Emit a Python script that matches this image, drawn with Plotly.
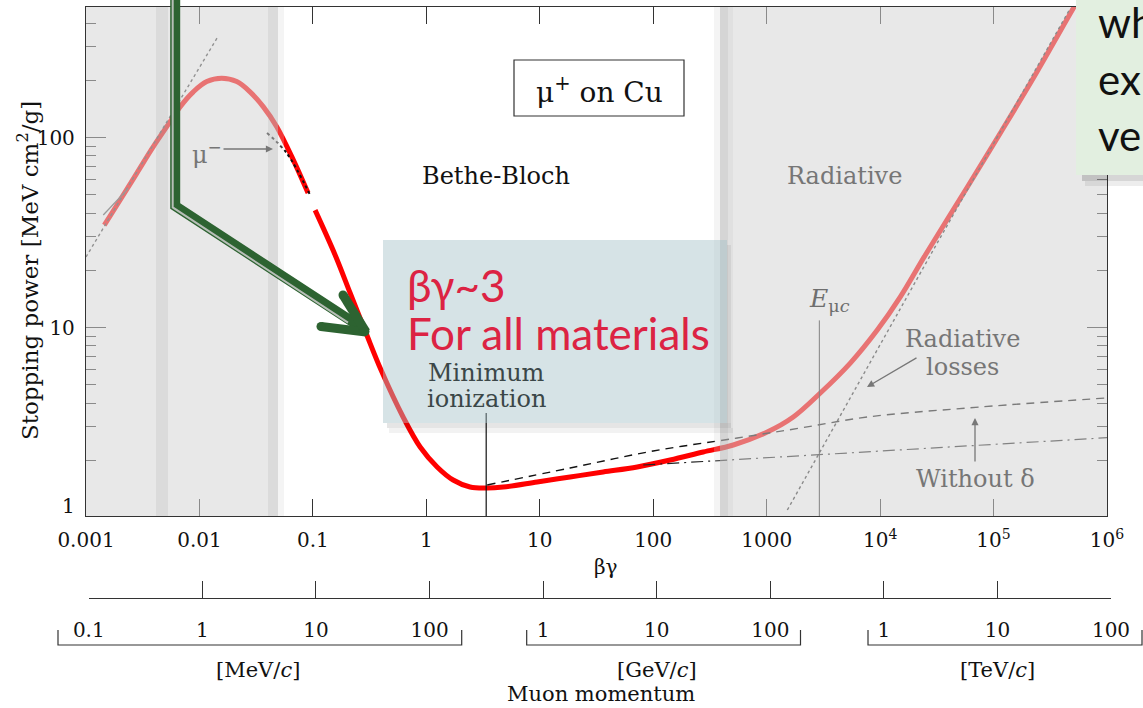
import plotly.graph_objects as go

# ---------------- data ----------------
# mu+ on Cu stopping power, low-energy branch (up to the gap near beta*gamma ~ 0.1)
curve_low_bg = [0.00145, 0.0020, 0.0028, 0.00392, 0.00515, 0.00675, 0.00883, 0.0116,
                0.0157, 0.0213, 0.0279, 0.0366, 0.0480, 0.0673, 0.0907]
curve_low_sp = [34.6, 46.9, 64.8, 89.5, 114, 145, 174, 197,
                205, 197, 174, 145, 114, 76.1, 51.0]
# main branch (Bethe-Bloch + radiative)
curve_high_bg = [0.1046, 0.157, 0.213, 0.294, 0.399, 0.624, 0.882, 1.245, 1.723, 2.43,
                 3.44, 4.76, 9.48, 18.5, 36.2, 72.3, 141, 276, 508, 1012,
                 1716, 2970, 5460, 9440, 15070, 25050, 58800, 114800, 224400, 506000, 600000]
curve_high_sp = [41.5, 24.1, 15.2, 9.36, 5.97, 3.38, 2.35, 1.845, 1.575, 1.447,
                 1.43, 1.447, 1.538, 1.634, 1.736, 1.845, 2.007, 2.212, 2.408, 2.818,
                 3.38, 4.52, 6.50, 9.70, 14.5, 24.1, 54.9, 105.6, 205.6, 480, 570]
# mu- curve (dotted)
mu_minus_bg = [0.0394, 0.0589, 0.0945]
mu_minus_sp = [105.6, 82.6, 49.8]
# low-energy straight-line guide (dotted) and short fit line
lowguide_bg = [0.001, 0.0143]
lowguide_sp = [23.5, 334]
lowfit_bg = [0.00142, 0.00236]
lowfit_sp = [39.1, 54.0]
# radiative losses (dotted)
rad_bg = [1521, 29440, 475000]
rad_sp = [1.095, 25.6, 479]
# without delta (dashed)
nodelta_bg = [3.44, 18.5, 100, 550, 1978, 7709, 58750, 1e6]
nodelta_sp = [1.483, 1.822, 2.239, 2.62, 2.958, 3.38, 3.77, 4.26]
# dash-dot curve
dashdot_bg = [81.7, 1e6]
dashdot_sp = [1.889, 2.63]
# markers
emuc_bg, emuc_top = 2912, 10.9
minion_bg, minion_top = 3.37, 3.55

x_tickvals = [1e-3, 1e-2, 1e-1, 1, 10, 100, 1000, 1e4, 1e5, 1e6]
x_ticktext = ["0.001", "0.01", "0.1", "1", "10", "100", "1000",
              "10<sup>4</sup>", "10<sup>5</sup>", "10<sup>6</sup>"]
y_tickvals = [10, 100]
y_minor = [2, 3, 4, 5, 6, 7, 8, 9, 20, 30, 40, 50, 60, 70, 80, 90, 200, 300, 400]
mom_tickvals = [0.1, 1, 10, 100, 1e3, 1e4, 1e5, 1e6, 1e7, 1e8]   # MeV/c
mom_ticktext = ["0.1", "1", "10", "100", "1", "10", "100", "1", "10", "100"]

# ---------------- geometry helpers (pixel -> paper) ----------------
W, H = 1143, 708
def fx(px):
    return px / W
def fy(py):
    return 1 - py / H

SERIF = "DejaVu Serif"
SANS = "Lato"
GRAY_TXT = "#767676"

fig = go.Figure()

def add_line(x, y, color, width, dash="solid", shape="linear"):
    fig.add_trace(go.Scatter(x=x, y=y, mode="lines",
                             line=dict(color=color, width=width, dash=dash, shape=shape),
                             hoverinfo="skip", showlegend=False))

add_line(curve_low_bg, curve_low_sp, "#ff0000", 5, shape="spline")
add_line(curve_high_bg, curve_high_sp, "#ff0000", 5, shape="spline")
add_line(lowguide_bg, lowguide_sp, "#444444", 1.4, dash="dot")
add_line(lowfit_bg, lowfit_sp, "#555555", 1.3)
add_line(mu_minus_bg, mu_minus_sp, "#111111", 2, dash="dot", shape="spline")
add_line(rad_bg, rad_sp, "#333333", 1.4, dash="dot")
add_line(nodelta_bg, nodelta_sp, "#111111", 1.4, dash="8px,6px", shape="spline")
add_line(dashdot_bg, dashdot_sp, "#222222", 1.2, dash="12px,5px,2px,5px")
add_line([emuc_bg, emuc_bg], [0.9, emuc_top], "#222222", 1)
add_line([minion_bg, minion_bg], [0.9, minion_top], "#111111", 1.2)

# invisible trace for the momentum axis
fig.add_trace(go.Scatter(x=[1], y=[0.5], xaxis="x2", yaxis="y", mode="markers",
                         marker=dict(opacity=0), hoverinfo="skip", showlegend=False))

axis_col = "#333333"
fig.update_layout(
    width=W, height=H, autosize=False,
    margin=dict(l=0, r=0, t=0, b=0),
    paper_bgcolor="white", plot_bgcolor="rgba(0,0,0,0)",
    showlegend=False, hovermode=False,
    xaxis=dict(type="log", domain=[fx(86), fx(1107)], range=[-3, 6], anchor="y",
               tickmode="array", tickvals=x_tickvals, ticktext=x_ticktext,
               ticks="inside", ticklen=17, tickwidth=1.2, tickcolor=axis_col,
               showline=True, linecolor=axis_col, linewidth=1.3, mirror="ticks",
               showgrid=False, zeroline=False, automargin=False,
               tickfont=dict(family=SERIF, size=20, color="#111"), ticklabelstandoff=6),
    yaxis=dict(type="log", domain=[fy(516), fy(7)], range=[0.0079, 2.687], anchor="x",
               tickmode="array", tickvals=y_tickvals, ticktext=["10", "100"],
               ticks="inside", ticklen=20, tickwidth=1.2, tickcolor=axis_col,
               minor=dict(tickmode="array", tickvals=y_minor, ticks="inside", ticklen=10,
                          tickwidth=1, tickcolor=axis_col),
               showline=True, linecolor=axis_col, linewidth=1.3, mirror="ticks",
               showgrid=False, zeroline=False, automargin=False,
               tickfont=dict(family=SERIF, size=20, color="#111"), ticklabelstandoff=6),
    xaxis2=dict(type="log", domain=[fx(88.8), fx(1111)], range=[-1, 8], anchor="free",
                position=fy(598), side="bottom",
                tickmode="array", tickvals=mom_tickvals, ticktext=mom_ticktext,
                ticks="inside", ticklen=17, tickwidth=1.2, tickcolor=axis_col,
                showline=True, linecolor=axis_col, linewidth=1.3,
                showgrid=False, zeroline=False, automargin=False,
                tickfont=dict(family=SERIF, size=20, color="#111"), ticklabelstandoff=14),
)

shapes = []
def rect(x0, x1, y0, y1, fill, layer="above", line=None):
    d = dict(type="rect", xref="paper", yref="paper",
             x0=fx(x0), x1=fx(x1), y0=fy(y1), y1=fy(y0),
             fillcolor=fill, layer=layer, line=dict(width=0))
    if line:
        d["line"] = line
    shapes.append(d)

BASE = "rgba(212,212,212,0.54)"
LIGHT = "rgba(212,212,212,0.25)"
STRIPE = "rgba(140,140,140,0.14)"
# left (low-energy) band
rect(86, 278, 7, 516, BASE)
rect(278, 284, 7, 516, LIGHT)
rect(156, 168, 7, 516, STRIPE)
rect(268, 278, 7, 516, STRIPE)
# right (radiative) band
rect(714, 720, 7, 516, LIGHT)
rect(720, 1107, 7, 516, BASE)
rect(720, 728, 7, 516, "rgba(140,140,140,0.2)")
rect(728, 733, 7, 516, "rgba(140,140,140,0.08)")

# blue-gray callout box with soft shadow
rect(387, 731, 423, 428, "rgba(0,0,0,0.10)")
rect(389, 733, 428, 433, "rgba(0,0,0,0.05)")
rect(727, 731, 245, 423, "rgba(0,0,0,0.06)")
rect(383, 727, 240, 423, "rgba(165,192,200,0.45)")

# mu+ on Cu box
rect(514, 684, 60, 116, "rgba(0,0,0,0)", line=dict(color="#333", width=1.2))

# green arrow
GREEN = "#2d6331"
def path(pts):
    return "M " + " L ".join(f"{fx(a):.5f},{fy(b):.5f}" for a, b in pts)
shapes.append(dict(type="path", xref="paper", yref="paper", layer="above",
                   path=path([(175.2, -3), (175.2, 206), (359, 326)]),
                   line=dict(color=GREEN, width=10)))
shapes.append(dict(type="path", xref="paper", yref="paper", layer="above",
                   path=path([(172.7, -3), (172.7, 207.4), (348, 322.6)]),
                   line=dict(color="#b7beb7", width=2)))
for (a, b) in [((321, 326.5), (366, 332)), ((343, 295), (366, 332))]:
    shapes.append(dict(type="line", xref="paper", yref="paper", layer="above",
                       x0=fx(a[0]), y0=fy(a[1]), x1=fx(b[0]), y1=fy(b[1]),
                       line=dict(color=GREEN, width=9)))
for (cx, cy) in [(321, 326.5), (343, 295), (365, 331.5)]:
    r = 4.5
    shapes.append(dict(type="circle", xref="paper", yref="paper", layer="above",
                       x0=fx(cx - r), x1=fx(cx + r), y0=fy(cy + r), y1=fy(cy - r),
                       fillcolor=GREEN, line=dict(width=0)))

# green note panel (top right) with shadow
rect(1082, 1145, 175, 181, "rgba(0,0,0,0.16)")
rect(1085, 1145, 181, 186, "rgba(0,0,0,0.07)")
rect(1076, 1145, -3, 175, "#e2efe0")

# momentum brackets
for (a, b) in [(58, 461.7), (526.7, 800.5), (868, 1142)]:
    shapes.append(dict(type="path", xref="paper", yref="paper", layer="above",
                       path=path([(a, 630), (a, 645), (b, 645), (b, 630)]),
                       line=dict(color=axis_col, width=1.2)))

fig.update_layout(shapes=shapes)

ann = []
def text(px, py, s, size=24, color="#111", family=SERIF, xanchor="center", angle=0):
    ann.append(dict(xref="paper", yref="paper", x=fx(px), y=fy(py), text=s,
                    showarrow=False, xanchor=xanchor, yanchor="middle",
                    textangle=angle, font=dict(family=family, size=size, color=color)))

def arrow(hx, hy, tx, ty):
    ann.append(dict(xref="paper", yref="paper", x=fx(hx), y=fy(hy), text="",
                    showarrow=True, ax=tx - hx, ay=ty - hy, arrowhead=2, arrowsize=1.1,
                    arrowwidth=1.3, arrowcolor="#777", standoff=0))

text(28, 271, "Stopping power [MeV cm<sup>2</sup>/g]", size=23, angle=-90)
text(77, 506, "1", size=20, xanchor="right")
text(606, 567, "βγ", size=20)
text(599.5, 91, "μ<sup>+</sup> on Cu", size=28)
text(496, 176, "Bethe-Bloch", size=24)
text(844, 176, "Radiative", size=24, color=GRAY_TXT)
text(207, 153, "μ<sup>−</sup>", size=24, color=GRAY_TXT)
arrow(273, 149, 222, 149)
text(486.7, 373, "Minimum", size=24, color="#3b4748")
text(486.7, 399, "ionization", size=24, color="#3b4748")
text(829, 300, "<i>E</i><sub>μ<i>c</i></sub>", size=25, color="#6e6e6e")
text(963, 339, "Radiative", size=24, color=GRAY_TXT)
text(963, 367, "losses", size=24, color=GRAY_TXT)
arrow(867, 387, 918, 357)
text(975, 479, "Without δ", size=24, color=GRAY_TXT)
arrow(975, 418, 975, 463)
text(405, 285, "βγ~3", size=44, color="#dc2343", family=SANS, xanchor="left")
text(405, 333, "For all materials", size=44, color="#dc2343", family=SANS, xanchor="left")
text(1096, 22, "wh", size=42, color="#111", family=SANS, xanchor="left")
text(1096, 79, "ex", size=42, color="#111", family=SANS, xanchor="left")
text(1096, 135, "ve", size=42, color="#111", family=SANS, xanchor="left")
text(258, 670, "[MeV/<i>c</i>]", size=21)
text(656.7, 670, "[GeV/<i>c</i>]", size=21)
text(997, 670, "[TeV/<i>c</i>]", size=21)
text(601, 694, "Muon momentum", size=21)

fig.update_layout(annotations=ann)
fig.write_html("out.html", config={"displayModeBar": False})
